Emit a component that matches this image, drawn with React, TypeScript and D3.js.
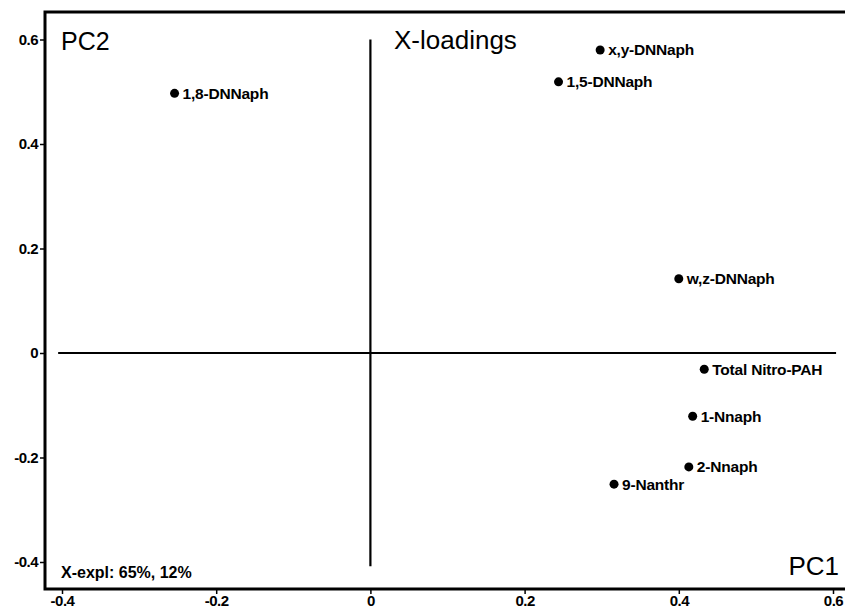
import React, { useEffect, useRef } from 'react';
import * as d3 from 'd3';

// PC1 / PC2 loadings
const names = ['1,8-DNNaph', 'x,y-DNNaph', '1,5-DNNaph', 'w,z-DNNaph', 'Total Nitro-PAH', '1-Nnaph', '2-Nnaph', '9-Nanthr'];
const pc1 = [-0.254, 0.298, 0.244, 0.4, 0.433, 0.418, 0.413, 0.316];
const pc2 = [0.497, 0.58, 0.519, 0.142, -0.031, -0.121, -0.218, -0.251];
const ticks = [-0.4, -0.2, 0, 0.2, 0.4, 0.6];

const FONT = 'Arial, "Liberation Sans", sans-serif';

const App = () => {
  const svgRef = useRef<SVGSVGElement>(null);

  useEffect(() => {
    const W = 845;
    const H = 613;
    const frame = { left: 45, top: 12, right: 845, bottom: 589 };

    const svg = d3.select(svgRef.current)
      .attr('width', W)
      .attr('height', H)
      .style('font-family', FONT);
    svg.selectAll('*').remove();

    const x = d3.scaleLinear().domain([-0.4, 0.6]).range([62, 833]);
    const y = d3.scaleLinear().domain([-0.4, 0.6]).range([562, 39.5]);
    const fmt = (d: any) => String(+d); // plain hyphen, like the original

    // axes
    svg.append('g')
      .attr('transform', `translate(0,${frame.bottom})`)
      .call(d3.axisBottom(x).tickValues(ticks).tickSize(5).tickPadding(1).tickFormat(fmt))
      .call(g => g.select('.domain').remove())
      .call(g => g.selectAll('line').attr('stroke', '#000').attr('stroke-width', 1.5))
      .call(g => g.selectAll('text').attr('font-size', 15).attr('font-weight', 'bold').attr('fill', '#000')
        .attr('font-family', FONT).attr('letter-spacing', -0.5));

    svg.append('g')
      .attr('transform', `translate(${frame.left},0)`)
      .call(d3.axisLeft(y).tickValues(ticks).tickSize(5).tickPadding(2).tickFormat(fmt))
      .call(g => g.select('.domain').remove())
      .call(g => g.selectAll('line').attr('stroke', '#000').attr('stroke-width', 1.5))
      .call(g => g.selectAll('text').attr('font-size', 15).attr('font-weight', 'bold').attr('fill', '#000')
        .attr('font-family', FONT).attr('letter-spacing', -0.5));

    // frame (no right edge visible)
    svg.append('path')
      .attr('d', `M${frame.right},${frame.top}H${frame.left}V${frame.bottom}H${frame.right}`)
      .attr('fill', 'none')
      .attr('stroke', '#000')
      .attr('stroke-width', 3);

    // zero lines
    svg.append('line')
      .attr('x1', x(-0.405)).attr('x2', x(0.604))
      .attr('y1', y(0)).attr('y2', y(0))
      .attr('stroke', '#000').attr('stroke-width', 2.2);
    svg.append('line')
      .attr('x1', x(0)).attr('x2', x(0))
      .attr('y1', y(0.6)).attr('y2', y(-0.408))
      .attr('stroke', '#000').attr('stroke-width', 2.2);

    // points
    const pts = svg.append('g');
    names.forEach((n, i) => {
      pts.append('circle')
        .attr('cx', x(pc1[i]))
        .attr('cy', y(pc2[i]))
        .attr('r', 4.5)
        .attr('fill', '#000');
      pts.append('text')
        .attr('x', x(pc1[i]) + 8)
        .attr('y', y(pc2[i]))
        .attr('dy', '0.35em')
        .attr('font-size', 15.5)
        .attr('font-weight', 'bold')
        .attr('letter-spacing', -0.2)
        .text(n);
    });

    // titles
    svg.append('text').attr('x', 61).attr('y', 50).attr('font-size', 25).text('PC2');
    svg.append('text').attr('x', 394).attr('y', 49).attr('font-size', 26).text('X-loadings');
    svg.append('text').attr('x', 839).attr('y', 575).attr('text-anchor', 'end').attr('font-size', 26).text('PC1');
    svg.append('text').attr('x', 61).attr('y', 578).attr('font-size', 16).attr('font-weight', 'bold').text('X-expl: 65%, 12%');
  }, []);

  return (
    <div style={{ position: 'absolute', left: 0, top: 0 }}>
      <svg ref={svgRef}></svg>
    </div>
  );
};

export default App;
